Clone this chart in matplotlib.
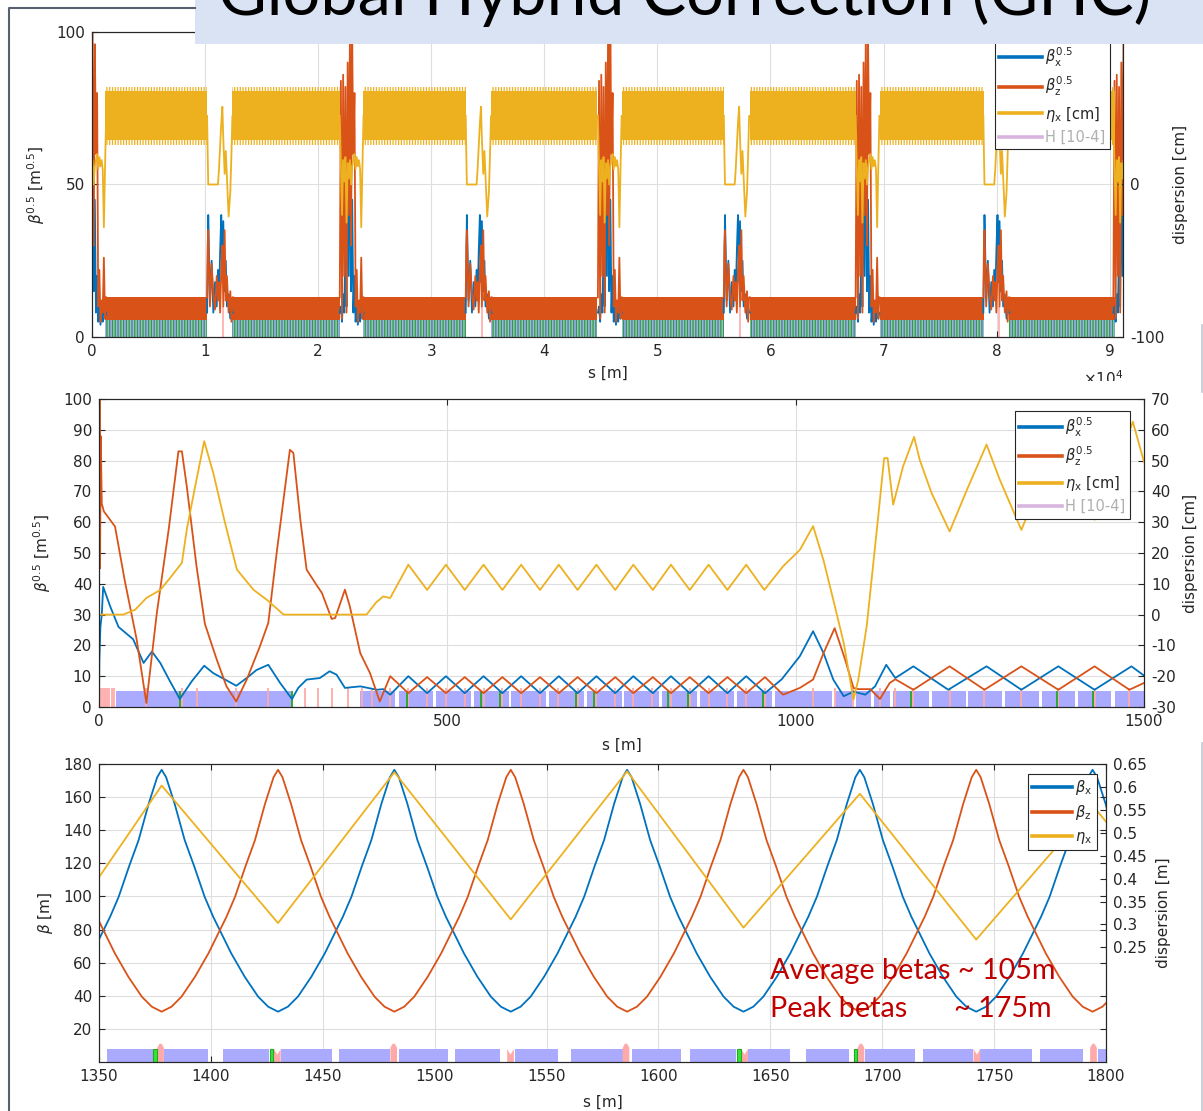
import matplotlib
matplotlib.use("Agg")
import matplotlib.pyplot as plt
from matplotlib.lines import Line2D
from matplotlib.patches import Rectangle, Polygon
import numpy as np

plt.rcParams["font.family"] = "DejaVu Sans"
plt.rcParams["mathtext.fontset"] = "dejavusans"
plt.rcParams["hatch.linewidth"] = 0.9
plt.rcParams["axes.unicode_minus"] = False

BLUE = "#0072bd"
ORANGE = "#d95319"
YELLOW = "#edb120"
LILAC = "#d7b5de"
DIPOLE = "#aaaaff"
QUAD = "#ffaaaa"
SEXT = "#22a822"
SEXT_BRIGHT = "#33e633"
TXT = "#262626"
GRID = "#dedede"

# ---------------- whole ring (top) ----------------
ip_centres = [0, 22760, 45587, 68381, 91174]
rf_centres = [11330, 34200, 57025, 79975]
arc_from = [1150, 12420, 24000, 35300, 46850, 58150, 69680, 81100]
arc_to = [10150, 21920, 33100, 44700, 55900, 67550, 78850, 90470]
arc_lattice = [0, 5.6]
arc_bx = [5.6, 11.5]
arc_bz = [5.6, 13.2]
arc_eta = [29, 61]
arc_eta_teeth = [26, 64]

ip_off = [-850, -750, -650, -550, -450, -350, -250, -150, -50, 50, 150,
          250, 350, 450, 550, 650, 750, 850, 950, 1050, 1150, 1250]
ip_bx = [8, 10, 5, 14, 8, 30, 10, 60, 20, 85, 15, 45, 8, 20, 5, 10, 4, 8, 5, 14, 6, 8]
ip_bz = [13, 84, 6, 86, 20, 82, 8, 90, 40, 100, 30, 96, 60, 80, 10, 22, 5, 12, 8, 26, 6, 13]
ip_eta = [45, 12, -20, 16, 2, 18, -25, 14, 4, 16, 0, 12, 16, 20, 10, 18, 12, 16, 10, -28, 10, 45]

rf_off = [-1150, -1100, -1050, -900, -750, -600, -450, -300, -190, -100, 0,
          100, 200, 280, 400, 500, 600, 750, 900, 1000, 1085, 1150]
rf_bx = [8, 22, 40, 12, 25, 8, 18, 10, 22, 12, 28, 40, 18, 38, 15, 25, 10, 14, 6, 10, 8, 8]
rf_bz = [13, 30, 35, 10, 24, 14, 9, 20, 12, 18, 8, 22, 30, 10, 35, 12, 20, 8, 15, 5, 13, 13]
rf_eta = [45, 20, 0, 0, 0, 0, 0, 0, 0, 10, 25, 40, 51, 30, 7, 22, 5, -21, -5, 20, 45, 45]

# ---------------- first 1.5 km (middle) ----------------
mid_bx_s = [0, 0.5, 2, 4, 6, 16, 28, 49, 64, 76, 88, 102, 116, 133, 151, 164, 181, 197,
            212, 226, 243, 260, 277, 286, 298, 317, 331, 341, 353, 375, 399, 408, 418,
            444, 471, 498, 525, 552, 579, 606, 633, 660, 687, 714, 741, 767, 795, 821,
            848, 875, 902, 929, 956, 980, 1006, 1025, 1040, 1054, 1069, 1083, 1100, 1114,
            1130, 1143, 1169, 1219, 1274, 1324, 1377, 1429, 1482, 1500]
mid_bx = [0, 15, 26, 30, 39, 32.7, 26, 22, 14.3, 18, 14.3, 8.3, 2.6, 8.3, 13.4, 11, 8.9,
          6.9, 9.4, 12, 13.7, 7.8, 2.6, 6.2, 8.9, 9.4, 11.6, 10.5, 6.2, 6.7, 5.6, 5.8, 4,
          10, 4.5, 10, 4.5, 10, 4.5, 10, 4.5, 10, 4.5, 10, 4.5, 10, 4.5, 10, 4.5, 10,
          4.5, 10, 4.5, 9, 16.5, 24.6, 17.5, 8.9, 3.5, 5, 4, 6.7, 13.7, 9.4, 13.2, 5.6,
          13.2, 5.6, 13.2, 5.6, 13.2, 10.2]
mid_bz_s = [0, 0.8, 1.5, 2.5, 4, 7, 23, 37, 54, 68, 83, 100, 114, 119, 126, 140, 152, 169,
            183, 197, 212, 231, 243, 255, 274, 279, 289, 298, 312, 320, 334, 339, 353, 360,
            375, 389, 403, 418, 444, 471, 498, 525, 552, 579, 606, 633, 660, 687, 714, 741,
            767, 795, 821, 848, 875, 902, 929, 956, 982, 1006, 1025, 1040, 1056, 1071,
            1083, 1090, 1107, 1121, 1135, 1143, 1169, 1221, 1271, 1324, 1377, 1429, 1479, 1500]
mid_bz = [40, 100, 45, 88, 66, 63.5, 58.6, 41, 22, 1.3, 30.5, 57.6, 83, 83, 71.6, 45.7, 27,
          15.4, 6.7, 1.8, 8.9, 19.7, 27.3, 50, 83.5, 82.5, 60.8, 44.6, 39.7, 37, 28.6, 28.9,
          38.1, 32.7, 17.5, 11, 1.8, 10, 4.5, 9.7, 4.5, 9.7, 4.5, 9.7, 4.5, 9.7, 4.5, 9.7,
          4.5, 9.7, 4.5, 9.7, 4.5, 9.7, 4.5, 9.7, 4.5, 9.7, 4, 6.2, 8.9, 17.5, 25.6, 15.4,
          6.2, 5.8, 5.8, 2.6, 7.8, 9, 5.6, 13.2, 5.6, 13.2, 5.6, 13.2, 5.6, 7.8]
mid_eta_s = [0, 35, 52, 68, 88, 102, 119, 126, 138, 151, 164, 181, 198, 222, 241, 265, 384,
             398, 408, 418, 444, 471, 498, 525, 552, 579, 606, 633, 660, 687, 714, 741, 767,
             795, 821, 848, 875, 902, 929, 955, 982, 1006, 1025, 1040, 1054, 1069, 1083,
             1090, 1102, 1118, 1127, 1132, 1140, 1154, 1170, 1178, 1195, 1221, 1246, 1274,
             1293, 1324, 1350, 1377, 1403, 1429, 1456, 1484, 1500]
mid_eta = [0, 0, 1.6, 5.4, 8, 11.9, 16.8, 27.6, 41.6, 56.3, 46, 29.7, 14.6, 8, 4.8, 0, 0,
           4, 5.9, 5.4, 16.2, 8, 16.2, 8, 16.2, 8, 16.2, 8, 16.2, 8, 16.2, 8, 16.2, 8, 16.2,
           8, 16.2, 8, 16.2, 8, 15.7, 21, 28.7, 17.6, 4.8, -9.2, -27.6, -21, -3.7, 30.8,
           50.8, 50.8, 35.7, 48, 57.7, 50.3, 39.5, 27, 40.6, 55.2, 43.8, 27.5, 42, 57, 44,
           30.8, 46, 62.6, 49.6]
mid_blk_a = [25, 375, 430, 484, 538, 592, 646, 700, 754, 808, 862, 916, 970, 1057, 1086,
             1112, 1140, 1196, 1248, 1300, 1353, 1405, 1458]
mid_blk_b = [277, 425, 480, 534, 588, 642, 696, 750, 804, 858, 912, 966, 1052, 1082, 1108,
             1136, 1191, 1244, 1296, 1349, 1401, 1453, 1500]
mid_quads = [3, 6, 9, 12, 15, 18, 21, 68, 119, 140, 197, 243, 295, 315, 335, 357, 378, 392,
             418, 444, 471, 498, 525, 552, 579, 606, 633, 659, 687, 713, 740, 767, 794, 821,
             848, 875, 902, 929, 956, 1025, 1056, 1083, 1121, 1143, 1169, 1221, 1271, 1324,
             1377, 1429, 1479]
mid_sexts = [116, 277, 442, 549, 576, 684, 711, 817, 846, 953, 1166, 1375, 1427]

# ---------------- arc cells (bottom) ----------------
cell_d = [0, 4.4, 8.9, 14.9, 20.9, 25.4, 29, 32.8, 37.4, 41.7, 46.2, 50, 52]
cell_beta = [30.4, 33.4, 39.5, 51.5, 65.6, 77.9, 87.8, 99.8, 118, 134, 156, 172, 176.5]
bx_minima = [1326, 1430, 1534, 1638, 1742, 1846]
bz_minima = [1274, 1378, 1482, 1586, 1690, 1794, 1898]
bot_eta_s = [1350, 1378, 1430, 1482, 1534, 1586, 1638, 1690, 1742, 1794, 1800]
bot_eta = [0.403, 0.603, 0.303, 0.632, 0.311, 0.634, 0.293, 0.585, 0.267, 0.56, 0.524]
bot_blk_a = [1353.4, 1379.1, 1405.3, 1431.3, 1457.2, 1484, 1509, 1536, 1561, 1588, 1614,
             1640, 1666, 1692.3, 1718.4, 1743.7, 1770.5, 1796.3]
bot_blk_b = [1374.3, 1398.8, 1426.1, 1454.3, 1480, 1506, 1529, 1555, 1584, 1610, 1634.7,
             1659, 1685.3, 1714.6, 1740.7, 1767, 1789.6, 1800]
bot_fquads = [1377.5, 1481.7, 1585.5, 1690.5, 1794.4]
bot_dquads = [1429.7, 1533.9, 1638.5, 1742.3]
bot_sexts = [1375, 1427, 1636, 1688]

W, H = 1203, 1111
fig = plt.figure(figsize=(W / 100, H / 100), dpi=100)
fig.patch.set_facecolor("white")


def px_box(l, t, r, b):
    return [l / W, 1 - b / H, (r - l) / W, (b - t) / H]


def style(ax, axr):
    for a in (ax, axr):
        for sp in a.spines.values():
            sp.set_color(TXT)
            sp.set_linewidth(0.8)
    ax.tick_params(direction="in", length=4.5, width=0.8, color=TXT, labelcolor=TXT,
                   labelsize=11, top=True, right=False, pad=5)
    axr.tick_params(direction="in", length=4.5, width=0.8, color=TXT, labelcolor=TXT,
                    labelsize=11, pad=5)
    ax.grid(True, color=GRID, lw=0.8)
    ax.set_axisbelow(True)


def add_legend(ax, labels, anchor, loc, grey_last=False, hlen=2.9):
    cols = [BLUE, ORANGE, YELLOW, LILAC][:len(labels)]
    handles = [Line2D([], [], color=c, lw=2.6) for c in cols]
    leg = ax.legend(handles, labels, loc=loc, bbox_to_anchor=(anchor[0] / W, 1 - anchor[1] / H),
                    bbox_transform=fig.transFigure, fontsize=10.5, frameon=True, fancybox=False,
                    framealpha=1, edgecolor=TXT, borderpad=0.3, labelspacing=0.42,
                    handlelength=hlen, handletextpad=0.25, borderaxespad=0)
    leg.get_frame().set_linewidth(0.8)
    for t in leg.get_texts():
        t.set_color(TXT)
    if grey_last:
        leg.get_texts()[-1].set_color("#b0b0b0")
    leg.set_zorder(20)
    return leg


lab_b = r"$\beta^{0.5}$ [m$^{0.5}$]"
leg4 = [r"$\beta^{0.5}_{\mathrm{x}}$", r"$\beta^{0.5}_{\mathrm{z}}$",
        r"$\eta_{\mathrm{x}}$ [cm]", "H [10-4]"]

# ---------- top panel: full ring ----------
ax1 = fig.add_axes(px_box(92, 32, 1123, 337))
ax1r = ax1.twinx()
ax1.set_zorder(1)
ax1r.set_zorder(1.1)
for a, b in zip(arc_from, arc_to):
    ax1.add_patch(Rectangle((a, arc_lattice[0]), b - a, arc_lattice[1] - arc_lattice[0],
                            facecolor=DIPOLE, edgecolor=SEXT, hatch="||||||", lw=0, zorder=1))
    ax1.add_patch(Rectangle((a, arc_bx[0]), b - a, arc_bx[1] - arc_bx[0],
                            facecolor=BLUE, lw=0, zorder=2))
    ax1.add_patch(Rectangle((a, arc_bz[0]), b - a, arc_bz[1] - arc_bz[0],
                            facecolor=ORANGE, lw=0, zorder=2.1))
    ax1r.add_patch(Rectangle((a, arc_eta[0]), b - a, arc_eta[1] - arc_eta[0],
                             facecolor=YELLOW, lw=0))
    for lo, hi in ((arc_eta_teeth[0], arc_eta[0]), (arc_eta[1], arc_eta_teeth[1])):
        ax1r.add_patch(Rectangle((a, lo), b - a, hi - lo, facecolor="none",
                                 edgecolor=YELLOW, hatch="||||||", lw=0))
for c in ip_centres:
    x = np.asarray(ip_off) + c
    ax1.plot(x, ip_bx, color=BLUE, lw=1.3, zorder=2.2)
    ax1.plot(x, ip_bz, color=ORANGE, lw=1.3, zorder=2.3)
    ax1r.plot(x, ip_eta, color=YELLOW, lw=1.3)
for c in rf_centres:
    x = np.asarray(rf_off) + c
    ax1.vlines(c + 250, 0, 10, color=QUAD, lw=1.2, zorder=1.5)
    ax1.plot(x, rf_bx, color=BLUE, lw=1.3, zorder=2.2)
    ax1.plot(x, rf_bz, color=ORANGE, lw=1.3, zorder=2.3)
    ax1r.plot(x, rf_eta, color=YELLOW, lw=1.3)

ax1.set_xlim(0, 91174)
ax1.set_ylim(0, 100)
ax1r.set_ylim(-100, 100)
ax1.set_xticks(np.arange(0, 90001, 10000))
ax1.set_xticklabels([str(i) for i in range(10)])
ax1.set_yticks([0, 50, 100])
ax1r.set_yticks([-100, 0, 100])
style(ax1, ax1r)
ax1.set_xlabel("s [m]", fontsize=11, color=TXT)
ax1.xaxis.set_label_coords(0.5, -0.095)
ax1.set_ylabel(lab_b, fontsize=11, color=TXT)
ax1.yaxis.set_label_coords(-0.044, 0.5)
ax1r.set_ylabel("dispersion [cm]", fontsize=11, color=TXT)
ax1r.yaxis.set_label_coords(1.0485, 0.5)
ax1.text(1.0, -0.105, r"$\times10^{4}$", transform=ax1.transAxes, ha="right", va="top",
         fontsize=11, color=TXT)
add_legend(ax1r, leg4, (995, 149), "lower left", grey_last=True)

# white backing of the second and third plot images
fig.add_artist(Rectangle((10 / W, 1 - 752 / H), 1191 / W, 371 / H, transform=fig.transFigure,
                         facecolor="white", edgecolor="none", zorder=2))
fig.add_artist(Rectangle((10 / W, 0), 1191 / W, 359 / H, transform=fig.transFigure,
                         facecolor="white", edgecolor="none", zorder=4))

# ---------- middle panel: first 1.5 km ----------
ax2 = fig.add_axes(px_box(99, 399, 1144, 707))
ax2r = ax2.twinx()
ax2.set_zorder(3)
ax2r.set_zorder(3.1)
for a, b in zip(mid_blk_a, mid_blk_b):
    ax2.add_patch(Rectangle((a, 0), b - a, 5.1, facecolor=DIPOLE, lw=0, zorder=1))
ax2.vlines(mid_quads, 0, 6.2, color=QUAD, lw=1.3, zorder=1.2)
ax2.vlines(mid_sexts, 0, 5.1, color=SEXT, lw=1.3, zorder=1.3)
ax2.plot(mid_bx_s, mid_bx, color=BLUE, lw=1.3)
ax2.plot(mid_bz_s, mid_bz, color=ORANGE, lw=1.3)
ax2r.plot(mid_eta_s, mid_eta, color=YELLOW, lw=1.3)
ax2.set_xlim(0, 1500)
ax2.set_ylim(0, 100)
ax2r.set_ylim(-30, 70)
ax2.set_xticks([0, 500, 1000, 1500])
ax2.set_yticks(np.arange(0, 101, 10))
ax2r.set_yticks(np.arange(-30, 71, 10))
style(ax2, ax2r)
ax2.set_xlabel("s [m]", fontsize=11, color=TXT)
ax2.xaxis.set_label_coords(0.5, -0.10)
ax2.set_ylabel(lab_b, fontsize=11, color=TXT)
ax2.yaxis.set_label_coords(-0.044, 0.5)
ax2r.set_ylabel("dispersion [cm]", fontsize=11, color=TXT)
ax2r.yaxis.set_label_coords(1.037, 0.5)
add_legend(ax2r, leg4, (1015, 411), "upper left", grey_last=True)

# ---------- bottom panel: arc cells ----------
ax3 = fig.add_axes(px_box(99, 764, 1106, 1062))
ax3r = ax3.twinx()
ax3.set_zorder(5)
ax3r.set_zorder(5.1)
for a, b in zip(bot_blk_a, bot_blk_b):
    ax3.add_patch(Rectangle((a, 0), b - a, 7.8, facecolor=DIPOLE, lw=0, zorder=1))
for q in bot_fquads:
    ax3.add_patch(Polygon([(q - 1.5, 0), (q - 1.5, 8.5), (q - 0.6, 10.8), (q, 11.2),
                           (q + 0.6, 10.8), (q + 1.5, 8.5), (q + 1.5, 0)],
                          facecolor=QUAD, lw=0, zorder=1.2))
for q in bot_dquads:
    ax3.add_patch(Polygon([(q - 1.5, 0), (q - 1.5, 7.8), (q, 4.5), (q + 1.5, 7.8), (q + 1.5, 0)],
                          facecolor=QUAD, lw=0, zorder=1.2))
for q in bot_sexts:
    ax3.add_patch(Rectangle((q - 0.8, 0), 1.6, 7.8, facecolor=SEXT_BRIGHT, edgecolor=SEXT,
                            lw=0.8, zorder=1.3))


def cell_curve(minima):
    s, v = [], []
    for m in minima:
        s += [m - d for d in cell_d[::-1]] + [m + d for d in cell_d[1:]]
        v += cell_beta[::-1] + cell_beta[1:]
    return s, v


bxs, bxv = cell_curve(bx_minima)
bzs, bzv = cell_curve(bz_minima)
ax3.plot(bxs, bxv, color=BLUE, lw=1.3)
ax3.plot(bzs, bzv, color=ORANGE, lw=1.3)
ax3r.plot(bot_eta_s, bot_eta, color=YELLOW, lw=1.3)
ax3.set_xlim(1350, 1800)
ax3.set_ylim(0, 180)
ax3r.set_ylim(0, 0.65)
ax3.set_xticks(np.arange(1350, 1801, 50))
ax3.set_yticks(np.arange(20, 181, 20))
ax3r.set_yticks([0.25, 0.3, 0.35, 0.4, 0.45, 0.5, 0.55, 0.6, 0.65])
ax3r.set_yticklabels(["0.25", "0.3", "0.35", "0.4", "0.45", "0.5", "0.55", "0.6", "0.65"])
ax3r.set_yticks(np.arange(20, 181, 20) / 180 * 0.65, minor=True)
style(ax3, ax3r)
ax3r.tick_params(which="minor", direction="in", length=4.5, width=0.8, color=TXT)
ax3.set_xlabel("s [m]", fontsize=11, color=TXT)
ax3.xaxis.set_label_coords(0.5, -0.11)
ax3.set_ylabel(r"$\beta$ [m]", fontsize=11, color=TXT)
ax3.yaxis.set_label_coords(-0.044, 0.5)
ax3r.set_ylabel("dispersion [m]", fontsize=11, color=TXT)
ax3r.yaxis.set_label_coords(1.05, 0.5)
add_legend(ax3r, [r"$\beta_{\mathrm{x}}$", r"$\beta_{\mathrm{z}}$", r"$\eta_{\mathrm{x}}$"],
           (1028, 774), "upper left", hlen=2.7)

red1 = fig.text(770 / W, 1 - 979 / H, "Average betas ~ 105m", color="#c00000",
                fontsize=20, family="Lato", zorder=10)
red2 = fig.text(770 / W, 1 - 1017 / H, "Peak betas", color="#c00000",
                fontsize=20, family="Lato", zorder=10)
red3 = fig.text(954 / W, 1 - 1017 / H, "~ 175m", color="#c00000",
                fontsize=20, family="Lato", zorder=10)

# slide title banner and frame
fig.add_artist(Rectangle((195 / W, 1 - 44 / H), 1008 / W, 44 / H, transform=fig.transFigure,
                         facecolor="#dae3f3", edgecolor="none", zorder=30))
title = fig.text(218 / W, 1 - 15 / H, "Global Hybrid Correction (GHC)", fontsize=44,
                 family="Lato", color="black", va="baseline", zorder=31)
fig.add_artist(Line2D([9 / W, 9 / W, 195 / W], [0, 1 - 8 / H, 1 - 8 / H],
                      transform=fig.transFigure, color="#56606e", lw=1.5, zorder=32))
for y0, y1 in ((325, 392), (743, 1111)):
    fig.add_artist(Line2D([1201.5 / W, 1201.5 / W], [1 - y0 / H, 1 - y1 / H],
                          transform=fig.transFigure, color="#c4c8d0", lw=1.2, zorder=32))

# scale the slide texts to their measured widths
fig.canvas.draw()
r = fig.canvas.get_renderer()
for t, width in ((title, 935), (red1, 285)):
    w = t.get_window_extent(r).width
    t.set_fontsize(t.get_fontsize() * width / w)
for t in (red2, red3):
    t.set_fontsize(red1.get_fontsize())

fig.savefig("out.png", dpi=100, facecolor="white")
